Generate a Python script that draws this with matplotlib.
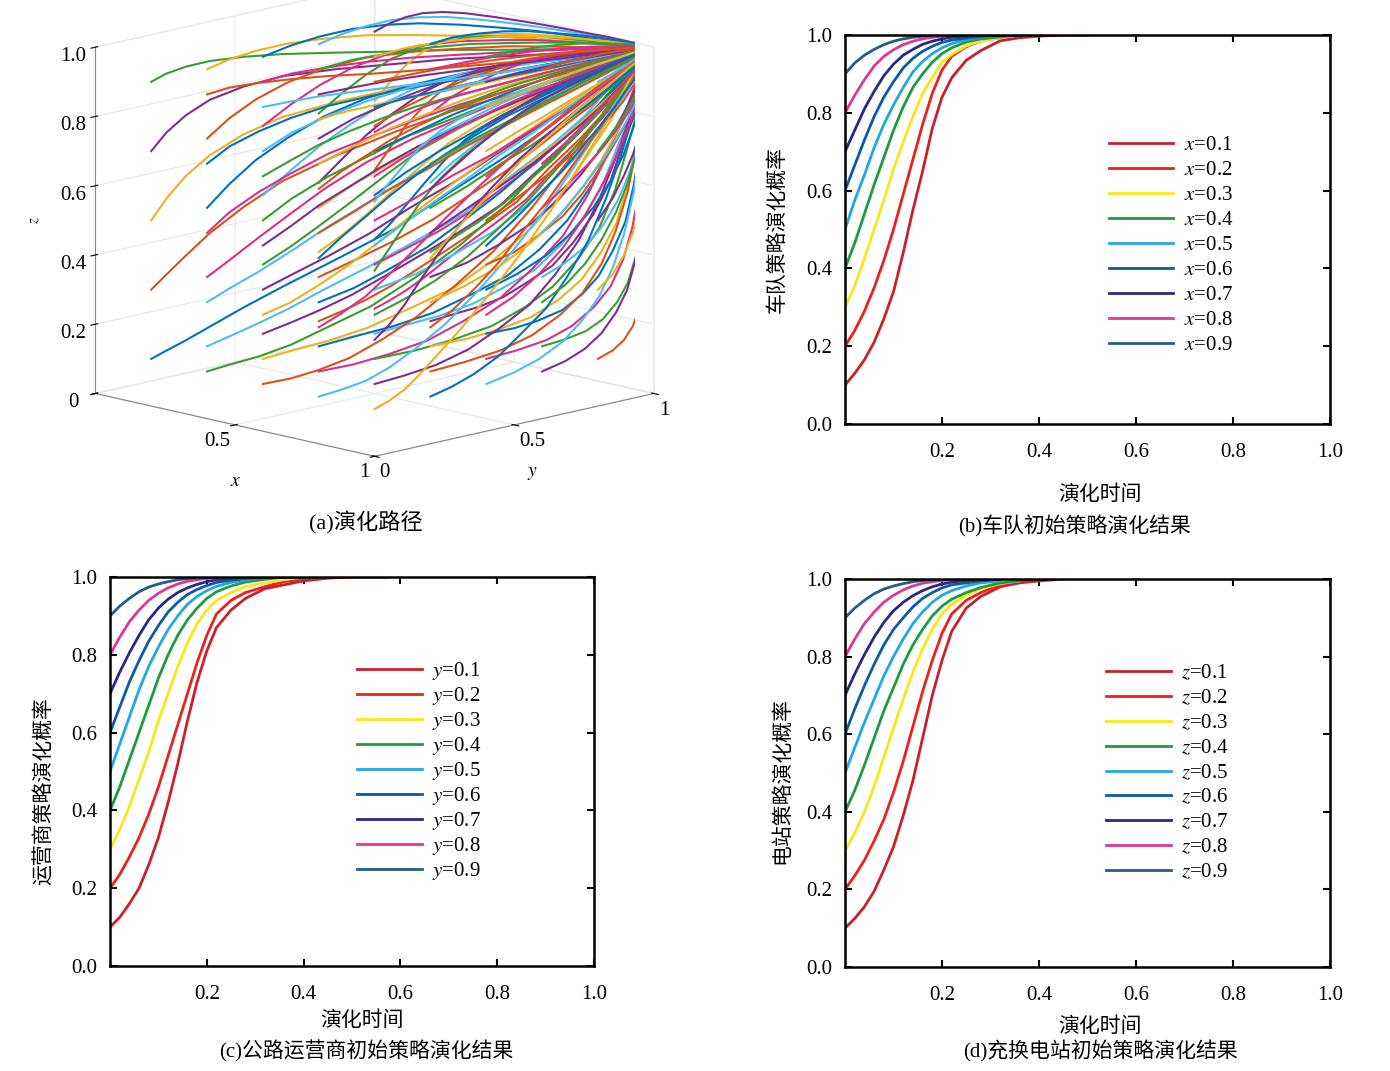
import matplotlib
matplotlib.use("Agg")
import matplotlib.pyplot as plt
import numpy as np

plt.rcParams['font.family'] = ['Liberation Serif', 'Noto Sans CJK SC']
plt.rcParams['mathtext.fontset'] = 'stix'

# time grid shared by all read-off curves
t_grid = [0, .02, .04, .06, .08, .10, .12, .14, .16, .18, .20, .22, .25, .28, .32, .36, .40, .45, .50, .57]
init_vals = [0.1, 0.2, 0.3, 0.4, 0.5, 0.6, 0.7, 0.8, 0.9]

# (b) fleet strategy x
fleet_curves = [
    [.10, .13, .165, .21, .27, .34, .44, .55, .65, .76, .84, .89, .935, .96, .985, .993, .997, 1, 1, 1],
    [.20, .24, .29, .35, .42, .50, .59, .68, .77, .85, .91, .945, .97, .985, .993, 1, 1, 1, 1, 1],
    [.30, .355, .425, .50, .575, .655, .725, .79, .85, .89, .93, .95, .972, .985, .993, 1, 1, 1, 1, 1],
    [.40, .465, .54, .615, .685, .755, .815, .865, .90, .93, .952, .967, .982, .99, .995, 1, 1, 1, 1, 1],
    [.50, .575, .64, .71, .77, .82, .865, .905, .932, .952, .967, .978, .988, .994, 1, 1, 1, 1, 1, 1],
    [.60, .665, .73, .79, .84, .88, .915, .94, .958, .971, .981, .987, .992, .996, 1, 1, 1, 1, 1, 1],
    [.70, .755, .81, .855, .895, .925, .948, .963, .976, .984, .99, .994, .997, 1, 1, 1, 1, 1, 1, 1],
    [.80, .845, .885, .92, .945, .962, .975, .984, .99, .994, .997, .999, 1, 1, 1, 1, 1, 1, 1, 1],
    [.90, .928, .948, .963, .975, .984, .99, .994, .997, .999, 1, 1, 1, 1, 1, 1, 1, 1, 1, 1],
]
fleet_end = [.50, .45, .40, .40, .36, .36, .32, .28, .25]

# (c) road operator strategy y
operator_curves = [
    [.10, .125, .16, .20, .26, .33, .42, .52, .63, .73, .81, .87, .915, .945, .97, .98, .99, .997, 1, 1],
    [.20, .235, .28, .33, .39, .46, .54, .62, .70, .78, .85, .905, .94, .96, .975, .988, .995, 1, 1, 1],
    [.30, .35, .41, .48, .55, .63, .70, .77, .83, .88, .915, .94, .96, .975, .985, .993, 1, 1, 1, 1],
    [.40, .46, .53, .60, .67, .74, .80, .85, .89, .92, .945, .962, .977, .987, .994, 1, 1, 1, 1, 1],
    [.50, .57, .64, .71, .77, .82, .865, .90, .93, .95, .965, .976, .986, .993, 1, 1, 1, 1, 1, 1],
    [.60, .665, .73, .785, .835, .875, .91, .935, .955, .968, .978, .986, .992, .996, 1, 1, 1, 1, 1, 1],
    [.70, .755, .805, .85, .89, .92, .943, .96, .972, .981, .988, .993, .997, 1, 1, 1, 1, 1, 1, 1],
    [.80, .845, .885, .915, .94, .958, .972, .982, .989, .993, .996, .998, 1, 1, 1, 1, 1, 1, 1, 1],
    [.90, .925, .945, .962, .974, .982, .988, .993, .996, .998, 1, 1, 1, 1, 1, 1, 1, 1, 1, 1],
]
operator_end = [.57, .50, .45, .45, .40, .40, .36, .32, .28]

# (d) charging/swapping station strategy z
station_curves = [
    [.10, .125, .155, .195, .25, .31, .39, .48, .59, .70, .79, .865, .925, .955, .98, .99, .995, 1, 1, 1],
    [.20, .235, .275, .325, .38, .45, .53, .62, .71, .79, .86, .91, .945, .965, .985, .995, 1, 1, 1, 1],
    [.30, .345, .40, .465, .54, .615, .69, .76, .82, .87, .91, .935, .958, .975, .988, .995, 1, 1, 1, 1],
    [.40, .455, .52, .59, .66, .72, .78, .83, .87, .905, .93, .948, .965, .978, .99, .995, 1, 1, 1, 1],
    [.50, .565, .63, .69, .75, .80, .845, .885, .915, .94, .958, .97, .982, .99, .995, 1, 1, 1, 1, 1],
    [.60, .665, .725, .78, .83, .87, .90, .928, .95, .965, .977, .985, .99, .995, 1, 1, 1, 1, 1, 1],
    [.70, .755, .805, .85, .888, .918, .94, .957, .97, .98, .987, .992, .996, 1, 1, 1, 1, 1, 1, 1],
    [.80, .845, .885, .915, .94, .958, .972, .982, .989, .993, .996, .998, 1, 1, 1, 1, 1, 1, 1, 1],
    [.90, .925, .945, .962, .974, .982, .988, .993, .996, .998, 1, 1, 1, 1, 1, 1, 1, 1, 1, 1],
]
station_end = [.45, .40, .36, .36, .32, .32, .32, .28, .25]

# starting values used for the 3-D evolution paths
path_starts = [0.1, 0.3, 0.5, 0.7, 0.9]

curve_colors = ['#c9202b', '#e8231f', '#fbe61a', '#1e9b3f', '#1fa9e1',
                '#0c5aa6', '#2c2786', '#e0388f', '#235d8a']
path_colors = ['#0072BD', '#D95319', '#EDB120', '#7E2F8E', '#3a9d2f', '#4DBEEE', '#d9308c']

fig = plt.figure(figsize=(13.9, 10.71), dpi=100)
cjk = ['Liberation Serif', 'Noto Sans CJK SC']


def plot_panel(ax, curves, ends, var, ylabel, caption, leg_anchor, leg_space,
               ylab_xy, xlab_xy, cap_xy):
    t = np.array(t_grid)
    for vals, end, x0, col in zip(curves, ends, init_vals, curve_colors):
        m = t <= end + 1e-9
        ax.plot(t[m], np.array(vals)[m], color=col, lw=2.0,
                label=f'${var}$=%.1f' % x0)
    ax.set_xlim(0, 1)
    ax.set_ylim(0, 1)
    ax.set_xticks([0.2, 0.4, 0.6, 0.8, 1.0])
    ax.set_xticklabels(['0.2', '0.4', '0.6', '0.8', '1.0'])
    ax.set_yticks([0, 0.2, 0.4, 0.6, 0.8, 1.0])
    ax.set_yticklabels(['0.0', '0.2', '0.4', '0.6', '0.8', '1.0'])
    ax.tick_params(direction='in', top=True, right=True, length=5, width=1.5,
                   labelsize=15)
    ax.tick_params(axis='x', pad=14)
    ax.tick_params(axis='y', pad=9)
    for s in ax.spines.values():
        s.set_linewidth(1.8)
    ax.set_ylabel(ylabel, fontsize=15, family=cjk, va='center')
    ax.yaxis.set_label_coords(*ylab_xy)
    ax.set_xlabel('演化时间', fontsize=15, family=cjk, va='center')
    ax.xaxis.set_label_coords(*xlab_xy)
    ax.text(cap_xy[0], cap_xy[1], caption, transform=ax.transAxes, ha='center',
            va='center', fontsize=15, family=cjk)
    ax.legend(loc='upper left', bbox_to_anchor=leg_anchor, frameon=False,
              fontsize=15, handlelength=3.1, labelspacing=leg_space,
              handletextpad=0.5)


ax_b = fig.add_axes([845 / 1390, 1 - 424 / 1071, 485 / 1390, 389 / 1071])
plot_panel(ax_b, fleet_curves, fleet_end, 'x', '车队策略演化概率',
           '(b)车队初始策略演化结果', (0.505, 0.79), 0.262,
           (-0.138, 0.5), (0.526, -0.182), (0.474, -0.262))

ax_c = fig.add_axes([110 / 1390, 1 - 966 / 1071, 484 / 1390, 389 / 1071])
plot_panel(ax_c, operator_curves, operator_end, 'y', '运营商策略演化概率',
           '(c)公路运营商初始策略演化结果', (0.472, 0.835), 0.145,
           (-0.134, 0.45), (0.52, -0.141), (0.529, -0.22))

ax_d = fig.add_axes([845 / 1390, 1 - 967 / 1071, 485 / 1390, 388 / 1071])
plot_panel(ax_d, station_curves, station_end, 'z', '电站策略演化概率',
           '(d)充换电站初始策略演化结果', (0.5, 0.83), 0.255,
           (-0.128, 0.48), (0.526, -0.156), (0.526, -0.218))

# (a) 3-D evolution paths
ax_a = fig.add_axes([0.0043, 0.5375, 0.52, 0.50], projection='3d')
idx = {v: init_vals.index(v) for v in path_starts}
n = 0
for x0 in path_starts:
    for y0 in path_starts:
        for z0 in path_starts:
            ax_a.plot(fleet_curves[idx[x0]], operator_curves[idx[y0]],
                      station_curves[idx[z0]], color=path_colors[n % 7], lw=1.5)
            n += 1
ax_a.set_xlim(0, 1)
ax_a.set_ylim(0, 1)
ax_a.set_zlim(0, 1)
ax_a.set_proj_type('ortho')
ax_a.view_init(elev=13, azim=-45)
ax_a.set_box_aspect((1, 1, 0.9), zoom=1.2)
ax_a.set_xticks([0, 0.5, 1])
ax_a.set_xticklabels(['', '0.5', '1'])
ax_a.set_yticks([0, 0.5, 1])
ax_a.set_yticklabels(['0', '0.5', '1'])
ax_a.set_zticks([0, 0.2, 0.4, 0.6, 0.8, 1.0])
ax_a.set_zticklabels(['0', '0.2', '0.4', '0.6', '0.8', '1.0'])
ax_a.zaxis.set_ticks_position('lower')
for lab in ax_a.xaxis.get_ticklabels():
    lab.set_ha('right')
for lab in ax_a.yaxis.get_ticklabels():
    lab.set_ha('left')
for axis in (ax_a.xaxis, ax_a.yaxis, ax_a.zaxis):
    axis.pane.fill = False
    axis.pane.set_edgecolor('#e0e0e0')
    axis._axinfo['grid'].update(color='#e6e6e6', linewidth=0.8)
    axis.line.set_color('#888888')
ax_a.tick_params(labelsize=15)
ax_a.xaxis.set_tick_params(pad=-4.5)
ax_a.yaxis.set_tick_params(pad=-4.5)
ax_a.zaxis.set_tick_params(pad=0)
fig.text(236 / 1390, 1 - 482 / 1071, '$x$', ha='center', va='center', fontsize=14)
fig.text(532 / 1390, 1 - 473 / 1071, '$y$', ha='center', va='center', fontsize=14)
fig.text(35 / 1390, 1 - 220 / 1071, '$z$', ha='center', va='center', fontsize=11,
         rotation=90)
fig.text(366 / 1390, 1 - 523 / 1071, '(a)演化路径', ha='center', va='center',
         fontsize=16, family=cjk)

fig.savefig('out.png', dpi=100)
